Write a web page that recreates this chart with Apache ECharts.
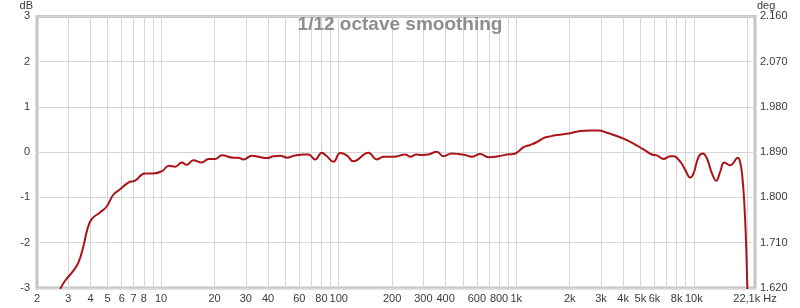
<!DOCTYPE html>
<html>
<head>
<meta charset="utf-8">
<script src="https://cdn.jsdelivr.net/npm/echarts@6/dist/echarts.min.js"></script>
<style>html,body{margin:0;padding:0;background:#fff}#c{width:800px;height:308px}</style>
</head>
<body>
<div id="c"></div>
<script>
// Frequency (Hz) of each sample of the measured curve
const freqHz = [2.7, 2.88, 3.2, 3.42, 3.65, 3.84, 4.06, 4.53, 4.94, 5.38, 5.87, 6.54, 7.13, 8.11, 9.04, 10.1, 11.1, 12.0, 13.1, 13.9, 15.2, 16.9, 18.5, 20.2, 22.0, 25.5, 27.2, 29.1, 32.4, 35.3, 39.4, 43.0, 47.0, 51.3, 55.9, 63.6, 67.5, 73.7, 80.3, 85.7, 93.4, 102, 111, 121, 147, 164, 179, 204, 237, 252, 275, 294, 320, 357, 389, 433, 473, 515, 562, 626, 698, 794, 886, 964, 1008, 1100, 1197, 1300, 1423, 1553, 1700, 2012, 2293, 2609, 2904, 3240, 3607, 4019, 4576, 5209, 5804, 6194, 6754, 7364, 7690, 8386, 8942, 9543, 9963, 10640, 11250, 11850, 12650, 13370, 14080, 14830, 16030, 16740, 17640, 18100, 18670, 19240, 19680, 20000, 20100];
// Level (dB) at each frequency
const levelDb = [-3.02, -2.84, -2.62, -2.44, -2.08, -1.71, -1.48, -1.33, -1.20, -0.94, -0.82, -0.67, -0.63, -0.47, -0.47, -0.42, -0.30, -0.32, -0.23, -0.28, -0.18, -0.23, -0.15, -0.15, -0.07, -0.12, -0.12, -0.16, -0.08, -0.10, -0.13, -0.09, -0.08, -0.12, -0.08, -0.05, -0.05, -0.16, -0.01, -0.09, -0.21, -0.02, -0.07, -0.20, -0.01, -0.16, -0.10, -0.10, -0.05, -0.10, -0.05, -0.06, -0.05, 0.01, -0.09, -0.03, -0.04, -0.06, -0.10, -0.04, -0.11, -0.09, -0.05, -0.04, -0.01, 0.11, 0.16, 0.22, 0.31, 0.35, 0.38, 0.42, 0.47, 0.48, 0.48, 0.43, 0.37, 0.30, 0.19, 0.06, -0.05, -0.07, -0.15, -0.09, -0.09, -0.21, -0.39, -0.56, -0.47, -0.10, -0.03, -0.14, -0.47, -0.63, -0.43, -0.23, -0.29, -0.23, -0.12, -0.17, -0.47, -1.13, -2.00, -2.95, -3.10];
// X grid line frequencies and labelled frequencies
const gridFreqs = [3,4,5,6,7,8,9,10,20,30,40,50,60,70,80,90,100,200,300,400,500,600,700,800,900,1000,2000,3000,4000,5000,6000,7000,8000,9000,10000,20000];
const labelFreqs = [2,3,4,5,6,7,8,10,20,30,40,60,80,100,200,300,400,600,800,1000,2000,3000,4000,5000,6000,8000,10000,22100];
const freqMin = 2, freqMax = 22100;
// Left (dB) and right (deg) axis ranges
const dbMin = -3, dbMax = 3, dbStep = 1;
const degMin = 1.62, degMax = 2.16, degStep = 0.09;
const titleText = '1/12 octave smoothing';

const seriesData = freqHz.map((f, i) => [f, levelDb[i]]);
const gridColor = '#d6d6d6';
const labelColor = '#3a3a3a';

const chart = echarts.init(document.getElementById('c'), null, {renderer: 'canvas'});
chart.setOption({
  animation: false,
  backgroundColor: '#ffffff',
  title: {
    text: titleText,
    left: 'center',
    top: 10,
    textStyle: {fontFamily: 'Liberation Sans, Arial', fontSize: 19, fontWeight: 'bold', color: '#8e8e8e'}
  },
  grid: {left: 37, right: 45, top: 13, bottom: 20, show: true, borderColor: '#c6c6c6', borderWidth: 3, backgroundColor: 'transparent'},
  xAxis: {
    type: 'log', logBase: 10, min: freqMin, max: freqMax,
    axisLine: {show: false},
    axisTick: {show: false, customValues: gridFreqs},
    splitLine: {show: true, lineStyle: {color: gridColor, width: 1}},
    axisLabel: {
      customValues: labelFreqs,
      color: labelColor, fontFamily: 'Liberation Sans, Arial', fontSize: 11, margin: 5,
      formatter: v => {
        if (Math.abs(v - 22100) < 1) return '22,1k Hz';
        return v >= 1000 ? (v / 1000) + 'k' : String(v);
      }
    }
  },
  yAxis: [{
    type: 'value', min: dbMin, max: dbMax, interval: dbStep,
    name: 'dB', nameLocation: 'end', nameGap: 3,
    nameTextStyle: {color: labelColor, fontFamily: 'Liberation Sans, Arial', fontSize: 11, align: 'right', padding: [0, 4, 0, 0]},
    axisLine: {show: false}, axisTick: {show: false},
    splitLine: {show: true, lineStyle: {color: gridColor, width: 1}},
    axisLabel: {color: labelColor, fontFamily: 'Liberation Sans, Arial', fontSize: 11, margin: 7}
  }, {
    type: 'value', min: degMin, max: degMax, interval: degStep, position: 'right',
    name: 'deg', nameLocation: 'end', nameGap: 3,
    nameTextStyle: {color: labelColor, fontFamily: 'Liberation Sans, Arial', fontSize: 11, align: 'left', padding: [0, 0, 0, 2]},
    axisLine: {show: false}, axisTick: {show: false}, splitLine: {show: false},
    axisLabel: {color: labelColor, fontFamily: 'Liberation Sans, Arial', fontSize: 11, margin: 5, formatter: v => v.toFixed(3)}
  }],
  series: [{
    type: 'line', data: seriesData, yAxisIndex: 0, showSymbol: false, smooth: 0.45,
    clip: true,
    lineStyle: {color: '#aa1418', width: 2}
  }]
});
</script>
</body>
</html>
